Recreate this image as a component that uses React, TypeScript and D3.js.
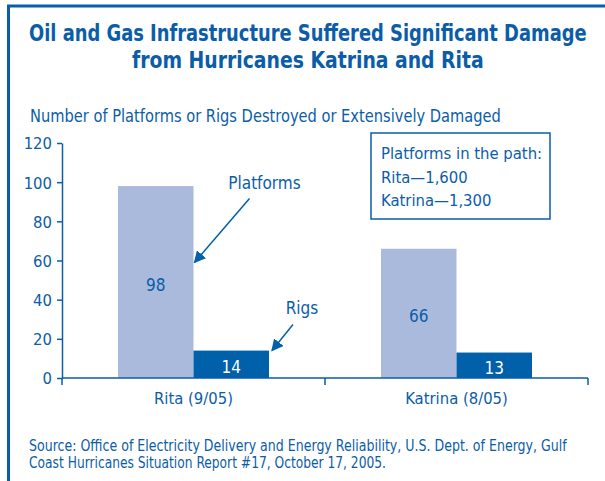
import React, { useEffect, useRef } from "react";
import * as d3 from "d3";

const categories = ["Rita (9/05)", "Katrina (8/05)"];
const seriesNames = ["Platforms", "Rigs"];
const platforms = [98, 66];
const rigs = [14, 13];
const yTicks = [0, 20, 40, 60, 80, 100, 120];
const titleLines = [
  "Oil and Gas Infrastructure Suffered Significant Damage",
  "from Hurricanes Katrina and Rita",
];
const subtitle = "Number of Platforms or Rigs Destroyed or Extensively Damaged";
const boxLines = ["Platforms in the path:", "Rita\u20141,600", "Katrina\u20141,300"];
const sourceLines = [
  "Source: Office of Electricity Delivery and Energy Reliability, U.S. Dept. of Energy, Gulf",
  "Coast Hurricanes Situation Report #17, October 17, 2005.",
];

const BLUE = "#0B5DA8";
const DARK = "#0060A9";
const LIGHT = "#AABADC";
const FONT = "'Liberation Sans Narrow', 'DejaVu Sans Condensed', 'Roboto', sans-serif";

function fitText(
  parent: d3.Selection<any, any, any, any>,
  txt: string,
  x: number,
  y: number,
  width: number,
  size: number,
  bold = false
) {
  const t = parent.append("text")
    .attr("x", 0)
    .attr("y", 0)
    .attr("font-size", size)
    .attr("font-weight", bold ? "bold" : "normal")
    .attr("fill", BLUE)
    .text(txt);
  const node = t.node() as SVGTextElement;
  const w = node.getComputedTextLength() || width;
  const sx = width / w;
  t.attr("transform", `translate(${x},${y}) scale(${sx},1)`);
  return t;
}

export default function App() {
  const ref = useRef<SVGSVGElement | null>(null);

  useEffect(() => {
    const svg = d3.select(ref.current);
    svg.selectAll("*").remove();
    svg.attr("font-family", FONT);

    // frame
    svg.append("path")
      .attr("d", "M8.5,605 L8.5,6 L605,6")
      .attr("fill", "none")
      .attr("stroke", BLUE)
      .attr("stroke-width", 3);

    // title
    const tx = [29, 132];
    const tw = [558, 352];
    titleLines.forEach((line, i) => fitText(svg, line, tx[i], 40.5 + i * 27, tw[i], 23, true));

    fitText(svg, subtitle, 30, 121.5, 471, 18);

    const x0 = 62, x1 = 588, yBase = 378, yTop = 143;
    const x = d3.scaleBand<string>().domain(categories).range([x0, x1]).paddingInner(0).paddingOuter(0);
    const xs = d3.scaleBand<string>().domain(seriesNames).range([0, x.bandwidth()]).paddingInner(0).paddingOuter(0.742);
    const y = d3.scaleLinear().domain([0, 120]).range([yBase, yTop]);

    // y axis
    const ya = svg.append("g").attr("transform", `translate(${x0},0)`)
      .call(d3.axisLeft(y).tickValues(yTicks).tickSize(5).tickSizeOuter(0).tickPadding(5));
    ya.select(".domain").attr("stroke", BLUE).attr("stroke-width", 1.5);
    ya.selectAll(".tick line").attr("stroke", BLUE).attr("stroke-width", 1.5);
    ya.selectAll(".tick text")
      .attr("fill", BLUE)
      .attr("font-size", 16.5)
      .attr("font-family", FONT)
      .attr("dy", "0.36em");

    // bars
    const groups = svg.selectAll(".grp")
      .data(categories)
      .enter()
      .append("g")
      .attr("transform", (d) => `translate(${x(d)},0)`);

    const series = [platforms, rigs];
    const fills = [LIGHT, DARK];
    const labelFills = [BLUE, "#FFFFFF"];
    seriesNames.forEach((s, si) => {
      groups.append("rect")
        .attr("x", xs(s)!)
        .attr("width", xs.bandwidth())
        .attr("y", (_, ci) => y(series[si][ci]))
        .attr("height", (_, ci) => yBase - y(series[si][ci]))
        .attr("fill", fills[si]);
      groups.append("text")
        .attr("x", xs(s)! + xs.bandwidth() / 2)
        .attr("y", (_, ci) => (y(series[si][ci]) + yBase) / 2 + 8.5)
        .attr("text-anchor", "middle")
        .attr("font-size", 17)
        .attr("fill", labelFills[si])
        .text((_, ci) => String(series[si][ci]));
    });

    // x axis
    svg.append("line")
      .attr("x1", x0).attr("x2", x1).attr("y1", yBase).attr("y2", yBase)
      .attr("stroke", BLUE).attr("stroke-width", 1.5);
    const bounds = [...categories.map((c) => x(c)!), x1];
    svg.selectAll(".xt")
      .data(bounds)
      .enter()
      .append("line")
      .attr("x1", (d) => d).attr("x2", (d) => d)
      .attr("y1", yBase).attr("y2", yBase + 7)
      .attr("stroke", BLUE).attr("stroke-width", 1.5);
    svg.selectAll(".xl")
      .data(categories)
      .enter()
      .append("text")
      .attr("x", (d) => x(d)! + x.bandwidth() / 2)
      .attr("y", 404)
      .attr("text-anchor", "middle")
      .attr("font-size", 16.5)
      .attr("fill", BLUE)
      .text((d) => d);

    // annotation arrows
    const defs = svg.append("defs");
    defs.append("marker")
      .attr("id", "arr")
      .attr("viewBox", "0 0 10 10")
      .attr("refX", 9).attr("refY", 5)
      .attr("markerWidth", 12).attr("markerHeight", 12)
      .attr("markerUnits", "userSpaceOnUse")
      .attr("orient", "auto")
      .append("path")
      .attr("d", "M0,0 L10,5 L0,10 Z")
      .attr("fill", DARK);

    const ritaX = x(categories[0])!;
    const pTipX = ritaX + xs("Platforms")! + xs.bandwidth() + 1;
    const pTipY = y(59);
    svg.append("line")
      .attr("x1", pTipX + 55).attr("y1", pTipY - 64)
      .attr("x2", pTipX).attr("y2", pTipY)
      .attr("stroke", DARK).attr("stroke-width", 1.5)
      .attr("marker-end", "url(#arr)");
    svg.append("text")
      .attr("x", pTipX + 70).attr("y", pTipY - 73)
      .attr("text-anchor", "middle")
      .attr("font-size", 17)
      .attr("fill", BLUE)
      .text("Platforms");

    const rTipX = ritaX + xs("Rigs")! + xs.bandwidth() + 3;
    const rTipY = y(rigs[0]);
    svg.append("line")
      .attr("x1", rTipX + 21).attr("y1", rTipY - 26)
      .attr("x2", rTipX).attr("y2", rTipY)
      .attr("stroke", DARK).attr("stroke-width", 1.5)
      .attr("marker-end", "url(#arr)");
    svg.append("text")
      .attr("x", rTipX + 30).attr("y", rTipY - 37)
      .attr("text-anchor", "middle")
      .attr("font-size", 17)
      .attr("fill", BLUE)
      .text("Rigs");

    // box
    svg.append("rect")
      .attr("x", 371).attr("y", 133)
      .attr("width", 179).attr("height", 86)
      .attr("fill", "#fff")
      .attr("stroke", BLUE).attr("stroke-width", 1.5);
    svg.selectAll(".bl")
      .data(boxLines)
      .enter()
      .append("text")
      .attr("x", 381)
      .attr("y", (_, i) => 159 + i * 23.5)
      .attr("font-size", 16.5)
      .attr("fill", BLUE)
      .text((d) => d);

    // source
    const sw = [538, 357];
    sourceLines.forEach((line, i) => fitText(svg, line, 29, 451 + i * 16.5, sw[i], 15));
  }, []);

  return (
    <svg
      ref={ref}
      width={605}
      height={481}
      style={{ position: "absolute", left: 0, top: 0, background: "#fff" }}
    />
  );
}
